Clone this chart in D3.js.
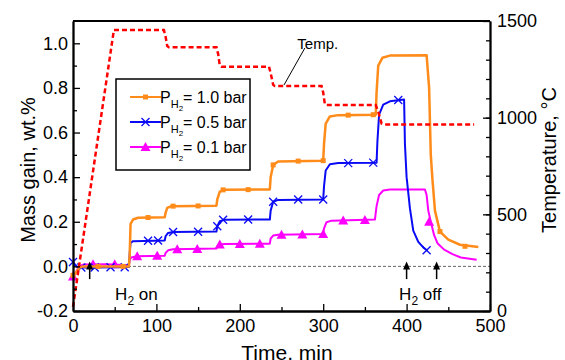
<!DOCTYPE html>
<html>
<head>
<meta charset="utf-8">
<script src="https://cdn.jsdelivr.net/npm/d3@7"></script>
<style>
  body { margin: 0; background: #fff; }
  text { font-family: "Liberation Sans", Arial, sans-serif; fill: #000; }
</style>
</head>
<body>
<script>
// time (min), mass gain (wt.%)
var orange = [[0,-0.04],[3,-0.03],[8,-0.005],[12,0.0],[40,0.0],[67,0.0],[68,0.05],[69,0.19],[72,0.21],[78,0.218],[110,0.22],[111,0.24],[113,0.262],[118,0.27],[172,0.272],[173,0.30],[176,0.335],[182,0.344],[236,0.345],[237,0.40],[240,0.455],[246,0.47],[300,0.474],[301,0.55],[303,0.64],[308,0.672],[318,0.678],[363,0.68],[364,0.78],[366,0.90],[371,0.935],[380,0.945],[424,0.947],[427,0.8],[429,0.5],[431,0.39],[434,0.25],[440,0.156],[450,0.12],[464,0.097],[486,0.087]]
var blue = [[0,0.02],[2,0.005],[6,-0.005],[30,-0.005],[67,-0.003],[68,0.06],[69,0.105],[72,0.113],[110,0.116],[111,0.135],[114,0.15],[120,0.154],[172,0.156],[173,0.18],[176,0.203],[182,0.209],[236,0.21],[237,0.25],[240,0.29],[246,0.298],[300,0.3],[301,0.36],[303,0.43],[308,0.458],[318,0.463],[364,0.465],[365,0.56],[367,0.68],[372,0.725],[380,0.74],[397,0.748],[398,0.55],[400,0.4],[404,0.26],[408,0.16],[414,0.11],[420,0.085],[425,0.07]]
var magenta = [[0,-0.045],[3,-0.03],[7,0.0],[12,0.008],[40,0.01],[67,0.005],[68,0.03],[70,0.04],[75,0.045],[110,0.048],[111,0.06],[114,0.072],[120,0.077],[172,0.08],[173,0.09],[176,0.098],[182,0.1],[236,0.102],[237,0.125],[240,0.138],[246,0.142],[300,0.145],[301,0.17],[304,0.198],[310,0.205],[362,0.21],[364,0.27],[367,0.32],[372,0.34],[380,0.345],[422,0.345],[424,0.32],[426,0.25],[429,0.2],[433,0.14],[437,0.104],[445,0.075],[455,0.055],[465,0.04],[484,0.03]]

// marker samples
var orangeMarks = [[0,-0.04],[30,0],[60,0],[90,0.219],[120,0.27],[150,0.271],[180,0.343],[210,0.344],[240,0.455],[270,0.472],[300,0.474],[330,0.678],[360,0.68],[440,0.156],[470,0.09]]
var blueMarks = [[0,0.02],[10,-0.005],[26,-0.005],[45,-0.004],[62,-0.004],[90,0.115],[102,0.116],[120,0.154],[150,0.155],[173,0.18],[180,0.209],[210,0.21],[240,0.29],[270,0.3],[300,0.3],[330,0.463],[360,0.465],[390,0.746],[424,0.072]]
var magentaMarks = [[0,-0.045],[24,0.01],[50,0.01],[77,0.045],[101,0.048],[125,0.077],[149,0.078],[176,0.098],[200,0.1],[224,0.101],[250,0.142],[275,0.143],[300,0.145],[324,0.206],[350,0.208],[427,0.2]]

// time (min), temperature (C)
var temp = [[0,21],[49,1453],[109,1453],[111,1420],[113,1370],[115,1364],[172,1364],[174,1330],[176,1270],[178,1264],[235,1264],[237,1230],[240,1170],[242,1164],[298,1164],[300,1130],[302,1070],[304,1065],[363,1065],[366,1030],[370,970],[373,965],[481,965]]

var legendLabels = ["= 1.0 bar", "= 0.5 bar", "= 0.1 bar"]
var arrowTimes = [20, 400, 436]
var xTicks = [0, 100, 200, 300, 400, 500]
var yTicks = [-0.2, 0.0, 0.2, 0.4, 0.6, 0.8, 1.0]
var tTicks = [0, 500, 1000, 1500]

drawChart()

function drawChart () {
  var W = 565, H = 360
  var pL = 73, pR = 490, pT = 21, pB = 311

  var svg = d3.select("body").append("svg")
              .attr("width", W)
              .attr("height", H)

  var x = d3.scaleLinear().domain([0, 500]).range([pL, pR])
  var y = d3.scaleLinear().domain([-0.2, 1.1]).range([pB, pT])
  var yT = d3.scaleLinear().domain([0, 1500]).range([pB, pT])

  // zero line
  svg.append("line")
     .attr("x1", x(0)).attr("x2", x(500))
     .attr("y1", y(0)).attr("y2", y(0))
     .attr("stroke", "#666")
     .attr("stroke-width", 1)
     .attr("stroke-dasharray", "3,2")

  var line = d3.line().x(d => x(d[0])).y(d => y(d[1]))
  var lineT = d3.line().x(d => x(d[0])).y(d => yT(d[1]))

  var series = [
    {data: orange, marks: orangeMarks, color: "#ff8c1a", shape: "square", width: 2.5},
    {data: blue, marks: blueMarks, color: "#0a0af5", shape: "cross", width: 2},
    {data: magenta, marks: magentaMarks, color: "#ff00ff", shape: "triangle", width: 2}
  ]

  function drawMark (g, shape, color, cx, cy) {
    if (shape === "square") {
      g.append("rect").attr("x", cx - 2.5).attr("y", cy - 2.5)
       .attr("width", 5).attr("height", 5).attr("fill", color)
    } else if (shape === "cross") {
      g.append("path")
       .attr("d", `M${cx-4},${cy-4}L${cx+4},${cy+4}M${cx-4},${cy+4}L${cx+4},${cy-4}`)
       .attr("stroke", color).attr("stroke-width", 1.3).attr("fill", "none")
    } else {
      g.append("path")
       .attr("d", `M${cx},${cy-5}L${cx+5},${cy+4}L${cx-5},${cy+4}Z`)
       .attr("fill", color)
    }
  }

  series.slice().reverse().forEach(function (s) {
    svg.append("path")
       .datum(s.data)
       .attr("d", line)
       .attr("fill", "none")
       .attr("stroke", s.color)
       .attr("stroke-width", s.width)
       .attr("stroke-linejoin", "round")
    var g = svg.append("g")
    s.marks.forEach(d => drawMark(g, s.shape, s.color, x(d[0]), y(d[1])))
  })

  // temperature
  svg.append("path")
     .datum(temp)
     .attr("d", lineT)
     .attr("fill", "none")
     .attr("stroke", "#ff0000")
     .attr("stroke-width", 2.5)
     .attr("stroke-dasharray", "5,3")

  // Temp. label
  svg.append("line")
     .attr("x1", x(278)).attr("y1", yT(1360))
     .attr("x2", x(253)).attr("y2", yT(1169))
     .attr("stroke", "#000").attr("stroke-width", 1)
  svg.append("text")
     .attr("x", x(269)).attr("y", yT(1360) + 1)
     .attr("font-size", 15)
     .text("Temp.")

  // arrows
  arrowTimes.forEach(function (t) {
    var ax = x(t)
    svg.append("line")
       .attr("x1", ax).attr("x2", ax)
       .attr("y1", y(-0.057)).attr("y2", y(0.0))
       .attr("stroke", "#000").attr("stroke-width", 1.5)
    svg.append("path")
       .attr("d", `M${ax},${y(0.022)}L${ax+3.5},${y(0.022)+8}L${ax-3.5},${y(0.022)+8}Z`)
       .attr("fill", "#000")
  })

  function h2Label (tx, ty, rest) {
    var t = svg.append("text").attr("x", tx).attr("y", ty).attr("font-size", 17)
    t.append("tspan").text("H")
    t.append("tspan").attr("dy", 5).attr("font-size", 12).text("2")
    t.append("tspan").attr("dy", -5).text(rest)
  }
  h2Label(x(50.5), 300, " on")
  h2Label(x(391), 300, " off")

  // axes
  var fmt1 = d => d.toFixed(1)
  function styleAxis (g) {
    g.selectAll(".domain").attr("stroke-width", 1.8)
    g.selectAll(".tick line").attr("stroke-width", 1.3)
    g.selectAll("text").attr("font-size", 18).attr("font-family", "Liberation Sans, Arial, sans-serif")
  }

  svg.append("g").attr("transform", `translate(0,${pB})`)
     .call(d3.axisBottom(x).tickValues(d3.range(50, 500, 100)).tickSize(-4).tickSizeOuter(0).tickFormat(""))
     .call(styleAxis)
  svg.append("g").attr("transform", `translate(0,${pB})`)
     .call(d3.axisBottom(x).tickValues(xTicks).tickSize(-7).tickSizeOuter(0).tickPadding(8))
     .call(styleAxis)

  svg.append("g").attr("transform", `translate(${pL},0)`)
     .call(d3.axisLeft(y).tickValues(d3.range(-0.1, 1.0, 0.2)).tickSize(-4).tickSizeOuter(0).tickFormat(""))
     .call(styleAxis)
  svg.append("g").attr("transform", `translate(${pL},0)`)
     .call(d3.axisLeft(y).tickValues(yTicks).tickSize(-7).tickSizeOuter(0).tickPadding(5).tickFormat(fmt1))
     .call(styleAxis)

  svg.append("g").attr("transform", `translate(${pR},0)`)
     .call(d3.axisRight(yT).tickValues(d3.range(100, 1500, 100)).tickSize(-4).tickSizeOuter(0).tickFormat(""))
     .call(styleAxis)
  svg.append("g").attr("transform", `translate(${pR},0)`)
     .call(d3.axisRight(yT).tickValues(tTicks).tickSize(-7).tickSizeOuter(0).tickPadding(7).tickFormat(d3.format("d")))
     .call(styleAxis)

  svg.append("line")
     .attr("x1", pL).attr("x2", pR)
     .attr("y1", pT).attr("y2", pT)
     .attr("stroke", "#000").attr("stroke-width", 1.8)

  // axis titles
  svg.append("text")
     .attr("transform", `translate(35,${(pT + pB) / 2 + 4}) rotate(-90)`)
     .attr("text-anchor", "middle")
     .attr("font-size", 20)
     .text("Mass gain, wt.%")
  svg.append("text")
     .attr("transform", `translate(556,${(pT + pB) / 2 - 6}) rotate(-90)`)
     .attr("text-anchor", "middle")
     .attr("font-size", 20)
     .text("Temperature, °C")
  svg.append("text")
     .attr("x", 287).attr("y", 360)
     .attr("text-anchor", "middle")
     .attr("font-size", 21)
     .text("Time, min")

  // legend
  var lg = svg.append("g")
  lg.append("rect")
    .attr("x", 116).attr("y", 79).attr("width", 134).attr("height", 91)
    .attr("fill", "#fff").attr("stroke", "#000").attr("stroke-width", 1.5)
  series.forEach(function (s, i) {
    var ly = 97 + i * 25
    lg.append("line")
      .attr("x1", 130).attr("x2", 161).attr("y1", ly).attr("y2", ly)
      .attr("stroke", s.color).attr("stroke-width", 2)
    drawMark(lg, s.shape, s.color, 145.5, ly)
    var t = lg.append("text").attr("x", 160).attr("y", ly + 6).attr("font-size", 16)
    t.append("tspan").text("P")
    t.append("tspan").attr("dy", 5).attr("font-size", 11).text("H")
    t.append("tspan").attr("dy", 3).attr("font-size", 8).text("2")
    t.append("tspan").attr("dy", -8).text(legendLabels[i])
  })
}
</script>
</body>
</html>
